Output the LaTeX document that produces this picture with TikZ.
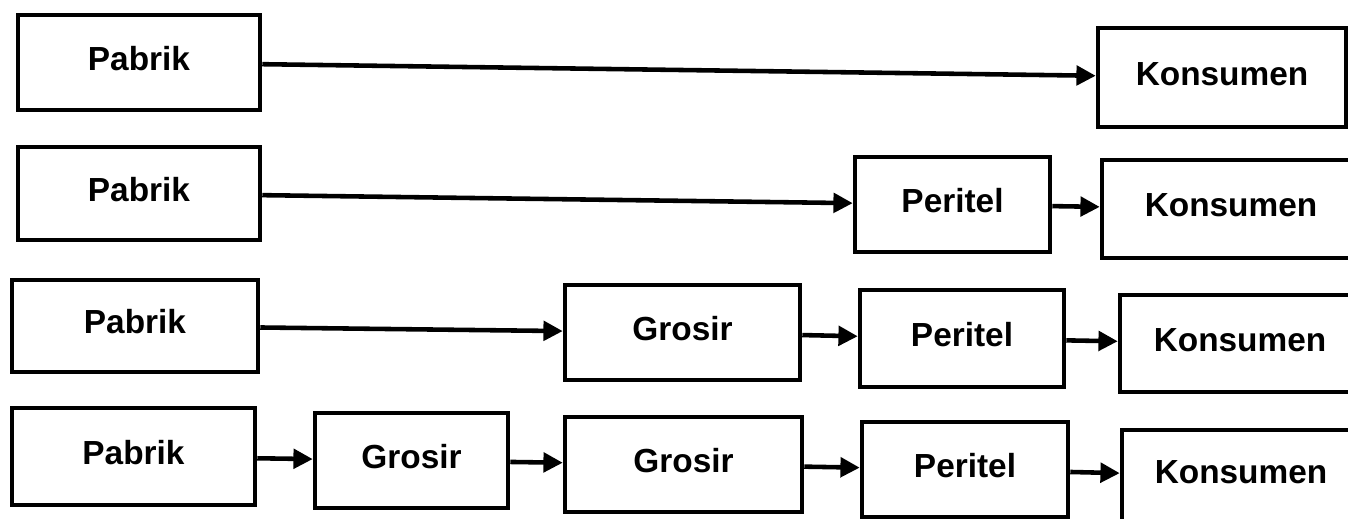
\documentclass[tikz,border=0pt]{standalone}
\usepackage{fontspec}
\setmainfont{Liberation Sans}
\usepackage{tikz}
\usetikzlibrary{arrows.meta}
\tikzstyle{module} = [rectangle, draw=black, line width=2.6pt, text centered, font=\fontsize{19}{22}\selectfont\bfseries, inner sep=0pt, text height=13.6pt, text depth=5pt]
\tikzstyle{flow} = [line width=2.6pt, -{Triangle[length=11pt,width=11pt]}]

\begin{document}
\begin{tikzpicture}[x=0.02cm, y=-0.02cm]
        \useasboundingbox (0,0) rectangle (1348,519);

        \node[module, minimum width=4.84cm, minimum height=1.9cm] (pabrikA) at (139,62.5) {Pabrik};
        \node[module, minimum width=4.96cm, minimum height=1.98cm] (konsumenA) at (1222,77.5) {Konsumen};

        \node[module, minimum width=4.84cm, minimum height=1.86cm] (pabrikB) at (139,193.5) {Pabrik};
        \node[module, minimum width=3.9cm, minimum height=1.9cm] (peritelB) at (952.5,204.5) {Peritel};
        \node[module, minimum width=5.16cm, minimum height=1.96cm] (konsumenB) at (1231,209) {Konsumen};

        \node[module, minimum width=4.92cm, minimum height=1.84cm] (pabrikC) at (135,326) {Pabrik};
        \node[module, minimum width=4.7cm, minimum height=1.9cm] (grosirC) at (682.5,332.5) {Grosir};
        \node[module, minimum width=4.08cm, minimum height=1.94cm] (peritelC) at (962,338.5) {Peritel};
        \node[module, minimum width=4.8cm, minimum height=1.94cm] (konsumenC) at (1240,343.5) {Konsumen};

        \node[module, minimum width=4.86cm, minimum height=1.94cm] (pabrikD) at (133.5,456.5) {Pabrik};
        \node[module, minimum width=3.86cm, minimum height=1.9cm] (grosirD) at (411.5,460.5) {Grosir};
        \node[module, minimum width=4.74cm, minimum height=1.9cm] (grosirE) at (683.5,464.5) {Grosir};
        \node[module, minimum width=4.12cm, minimum height=1.9cm] (peritelD) at (965,469.5) {Peritel};
        \node[module, minimum width=4.76cm, minimum height=1.84cm] (konsumenD) at (1241,476) {Konsumen};

        \draw[flow] (pabrikA) -- (konsumenA);
        \draw[flow] (pabrikB) -- (peritelB);
        \draw[flow] (peritelB) -- (konsumenB);
        \draw[flow] (pabrikC) -- (grosirC);
        \draw[flow] (grosirC) -- (peritelC);
        \draw[flow] (peritelC) -- (konsumenC);
        \draw[flow] (pabrikD) -- (grosirD);
        \draw[flow] (grosirD) -- (grosirE);
        \draw[flow] (grosirE) -- (peritelD);
        \draw[flow] (peritelD) -- (konsumenD);
    \end{tikzpicture}
\end{document}
